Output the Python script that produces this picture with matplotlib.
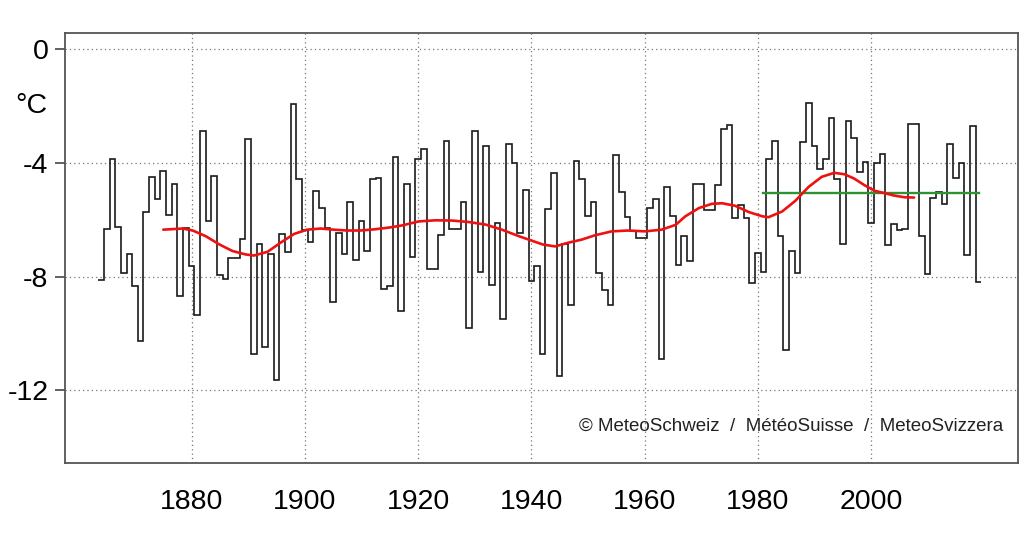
import matplotlib
matplotlib.use("Agg")
import matplotlib.pyplot as plt
import numpy as np

plt.rcParams["font.family"] = ["Liberation Sans", "DejaVu Sans"]
plt.rcParams["axes.unicode_minus"] = False

# annual values, 1864 .. 2019 (°C)
years = np.arange(1864, 2020)
temps = [
    -8.13, -6.33, -3.85, -6.27, -7.88, -7.21,
    -8.33, -10.26, -5.72, -4.50, -5.26, -4.27, -5.85, -4.74, -8.69, -6.29,
    -7.63, -9.35, -2.88, -6.03, -4.47, -7.93, -8.08, -7.34, -7.35, -6.67,
    -3.17, -10.73, -6.84, -10.47, -7.20, -11.64, -6.52, -7.12, -1.93, -4.57,
    -6.35, -6.77, -4.99, -5.60, -6.29, -8.88, -6.47, -7.19, -5.36, -7.42,
    -6.06, -7.10, -4.55, -4.52, -8.44, -8.33, -3.80, -9.22, -4.74, -7.32,
    -3.86, -3.52, -7.75, -7.75, -6.55, -3.22, -6.34, -6.34, -5.38, -9.80,
    -2.87, -7.85, -3.42, -8.28, -6.11, -9.50, -3.33, -4.02, -6.46, -4.97,
    -8.17, -7.63, -10.71, -5.62, -4.36, -11.50, -6.87, -9.01, -3.93, -4.56,
    -5.86, -5.37, -7.88, -8.48, -9.01, -3.74, -5.03, -5.92, -6.40, -6.64,
    -6.64, -5.60, -5.28, -10.90, -4.84, -5.88, -7.58, -6.59, -7.45, -4.73,
    -4.76, -5.65, -5.65, -4.78, -2.81, -2.65, -5.93, -5.49, -5.94, -8.24,
    -7.17, -7.85, -3.88, -3.23, -6.57, -10.60, -7.11, -7.87, -3.28, -1.89,
    -3.41, -4.20, -3.86, -2.42, -4.55, -6.87, -2.51, -3.14, -4.31, -3.96,
    -6.13, -4.00, -3.70, -6.88, -6.15, -6.35, -6.31, -2.63, -2.63, -6.58,
    -7.92, -5.24, -5.01, -5.44, -3.33, -4.52, -4.02, -7.24, -2.72, -8.20,
]

# smoothed curve (red)
smooth_years = [
    1875.0, 1878.4, 1880.2, 1882.5, 1884.9, 1887.2, 1889.5, 1891.0, 1893.4,
    1895.7, 1898.1, 1900.4, 1902.8, 1905.1, 1907.5, 1909.8, 1912.2, 1915.1,
    1917.2, 1920.1, 1923.1, 1926.0, 1928.9, 1931.9, 1934.8, 1937.8, 1940.7,
    1942.0, 1944.2, 1946.5, 1948.9, 1951.2, 1954.2, 1957.1, 1960.1, 1963.0,
    1965.5, 1967.2, 1969.6, 1971.9, 1973.7, 1976.0, 1978.4, 1980.8, 1981.9,
    1984.3, 1986.6, 1989.0, 1991.3, 1993.5, 1995.3, 1997.0, 1998.8, 2000.6,
    2002.3, 2004.1, 2005.9, 2007.6,
]
smooth_vals = [
    -6.35, -6.31, -6.38, -6.58, -6.87, -7.10, -7.22, -7.26, -7.13,
    -6.81, -6.50, -6.35, -6.31, -6.35, -6.38, -6.38, -6.34, -6.27,
    -6.20, -6.06, -6.02, -6.03, -6.08, -6.17, -6.35, -6.58, -6.78,
    -6.87, -6.94, -6.81, -6.70, -6.55, -6.41, -6.38, -6.41, -6.35,
    -6.18, -5.88, -5.59, -5.44, -5.42, -5.51, -5.73, -5.88, -5.91,
    -5.71, -5.34, -4.84, -4.49, -4.35, -4.40, -4.55, -4.78, -4.98,
    -5.06, -5.15, -5.21, -5.22,
]

# 1981-2010 norm (green)
norm_years = [1981, 2019.1]
norm_val = -5.05

fig = plt.figure(figsize=(10.24, 5.4), dpi=100)
ax = fig.add_axes([0.0635, 0.1426, 0.9305, 0.7963])

edges = np.append(years - 0.5, years[-1] + 0.5)
ax.stairs(temps, edges, baseline=None, color="#1a1a1a", linewidth=1.2, zorder=3)
ax.plot(norm_years, [norm_val, norm_val], color="#2e9132", linewidth=1.7, zorder=4)
ax.plot(smooth_years, smooth_vals, color="#ee1111", linewidth=1.9,
        solid_capstyle="round", solid_joinstyle="round", zorder=5)

ax.set_xlim(1857.64, 2025.93)
ax.set_ylim(-14.56, 0.57)
ax.set_xticks(np.arange(1880, 2001, 20))
ax.set_yticks([0, -4, -8, -12])
ax.grid(True, color="#777777", linestyle=(0, (1, 2.5)), linewidth=0.9)
ax.set_axisbelow(True)

for s in ax.spines.values():
    s.set_color("#555555")
    s.set_linewidth(1.3)
ax.tick_params(axis="both", labelsize=20.5, colors="#555555", labelcolor="black",
               width=1.3)
ax.tick_params(axis="y", length=7, pad=5)
ax.tick_params(axis="x", length=0, pad=19)

fig.text(0.031, 0.804, "°C", fontsize=20.5, ha="center", va="center")
ax.text(0.985, 0.085, "© MeteoSchweiz  /  MétéoSuisse  /  MeteoSvizzera",
        transform=ax.transAxes, ha="right", va="center", fontsize=13.5,
        color="#222222", zorder=6)

fig.savefig("out.png", dpi=100)
